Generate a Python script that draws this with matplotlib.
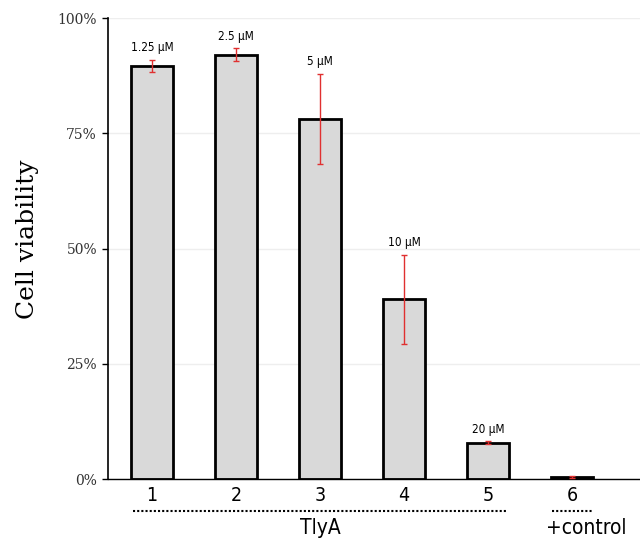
import matplotlib
matplotlib.use("Agg")
import matplotlib.pyplot as plt
from matplotlib.ticker import FuncFormatter

# data
groups = ['1', '2', '3', '4', '5', '6']
viability = [89.6, 92.0, 78.1, 39.0, 7.9, 0.5]   # % cell viability
errors = [1.4, 1.4, 9.8, 9.7, 0.3, 0.2]
conc_labels = ['1.25 µM', '2.5 µM', '5 µM', '10 µM', '20 µM', '']
yticks = [0, 25, 50, 75, 100]

narrow = dict(family='DejaVu Sans', stretch='condensed')
serif = ['DejaVu Serif']

fig = plt.figure(figsize=(6.4, 5.41), dpi=100)
ax = fig.add_axes([0.169, 0.1146, 0.831, 0.8521])

xs = list(range(1, len(groups) + 1))
ax.bar(xs, viability, width=0.5, color='#d9d9d9', edgecolor='black',
       linewidth=2, zorder=2)
ax.errorbar(xs, viability, yerr=errors, fmt='none', ecolor='#e03030',
            elinewidth=1, capsize=2, capthick=1, zorder=3)

for x, v, e, lab in zip(xs, viability, errors, conc_labels):
    if lab:
        ax.annotate(lab, (x, v + e), xytext=(0, 4), textcoords='offset points',
                    ha='center', va='bottom', fontsize=8.5, **narrow)

ax.set_xlim(0.476, 6.81)
ax.set_ylim(0, 100)
ax.set_yticks(yticks)
ax.yaxis.set_major_formatter(FuncFormatter(lambda v, p: '%d%%' % v))
ax.set_xticks(xs)
ax.set_xticklabels(groups, fontsize=14, **narrow)
ax.tick_params(axis='x', length=0, pad=5)
ax.tick_params(axis='y', length=4, width=1, pad=4)
for t in ax.get_yticklabels():
    t.set_family(serif)
    t.set_fontsize(10)
    t.set_color('#333333')

ax.grid(axis='y', color='#eeeeee', linewidth=1, zorder=0)
ax.spines['top'].set_visible(False)
ax.spines['right'].set_visible(False)
ax.spines['left'].set_linewidth(1.2)
ax.spines['bottom'].set_linewidth(1.0)

ax.set_ylabel('Cell viability', family=serif, fontsize=18)
ax.yaxis.set_label_coords(-0.13, 0.52)

# group annotations below the x axis
trans = ax.get_xaxis_transform()
ax.plot([0.774, 5.226], [-0.069, -0.069], transform=trans, color='black',
        linestyle=(0, (1, 1)), linewidth=1.5, clip_on=False)
ax.text(3.0, -0.107, 'TlyA', transform=trans, ha='center', va='center',
        fontsize=15, **narrow)
ax.plot([5.76, 6.24], [-0.069, -0.069], transform=trans, color='black',
        linestyle=(0, (1, 1)), linewidth=1.5, clip_on=False)
ax.text(6.17, -0.107, '+control', transform=trans, ha='center', va='center',
        fontsize=15, **narrow)

fig.savefig('out.png', dpi=100)
